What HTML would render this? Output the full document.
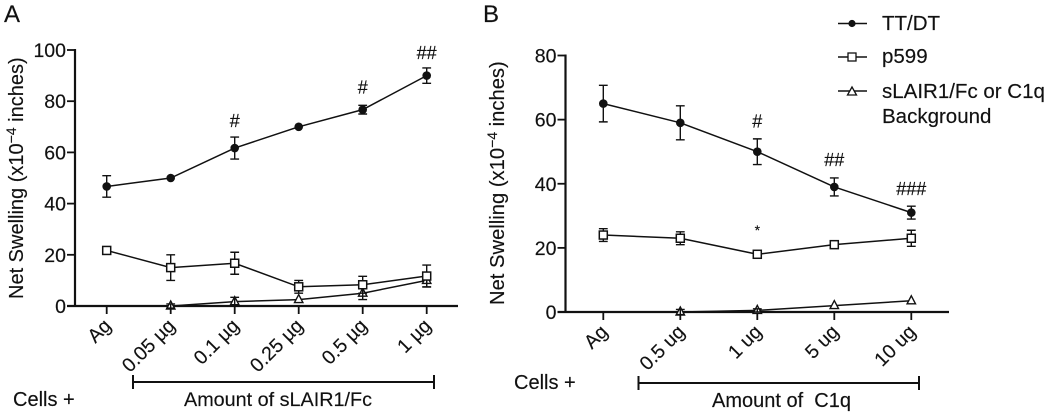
<!DOCTYPE html>
<html lang="en">
<head>
<meta charset="utf-8">
<title>Net swelling charts</title>
<style>
html,body{margin:0;padding:0;background:#fff;}
svg{display:block;}
text{font-family:"Liberation Sans",sans-serif;fill:#111;stroke:#111;stroke-width:0.15;}
</style>
</head>
<body>
<svg id="figure" width="1050" height="414" viewBox="0 0 1050 414" xmlns="http://www.w3.org/2000/svg">
  <g id="panel-a"></g>
  <g id="panel-b"></g>

  <text x="4" y="22" font-size="24">A</text>
  <text x="483" y="22" font-size="24">B</text>

  <text transform="translate(23,299) rotate(-90)" font-size="20">Net Swelling (x10<tspan font-size="14" dy="-7">−4</tspan><tspan dy="7"> inches)</tspan></text>
  <text transform="translate(504,305) rotate(-90)" font-size="20.2">Net Swelling (x10<tspan font-size="14" dy="-7">−4</tspan><tspan dy="7"> inches)</tspan></text>

  <text x="13" y="406" font-size="20">Cells +</text>
  <path d="M133 382H434M133 375V389M434 375V389" stroke="#111" stroke-width="2" fill="none"/>
  <text x="184" y="406" font-size="19.8">Amount of sLAIR1/Fc</text>

  <text x="514" y="389" font-size="20">Cells +</text>
  <path d="M638.5 383H919M638.5 376V390M919 376V390" stroke="#111" stroke-width="2" fill="none"/>
  <text x="712" y="407" font-size="20" xml:space="preserve" style="white-space:pre">Amount of  C1q</text>

  <g>
    <g>
      <line x1="838" x2="867" y1="23.5" y2="23.5" stroke="#111" stroke-width="1.4"/>
      <circle cx="852" cy="23.5" r="3.6" fill="#111"/>
      <text x="882" y="30" font-size="20.5">TT/DT</text>
    </g>
    <g>
      <line x1="838" x2="867" y1="57" y2="57" stroke="#111" stroke-width="1.4"/>
      <rect x="848" y="53" width="8" height="8" fill="#fff" stroke="#111" stroke-width="1.3"/>
      <text x="882" y="63" font-size="20.5">p599</text>
    </g>
    <g>
      <line x1="838" x2="867" y1="91" y2="91" stroke="#111" stroke-width="1.4"/>
      <path d="M852 87L856.5 95H847.500Z" fill="#fff" stroke="#111" stroke-width="1.3"/>
      <text x="882" y="98" font-size="20.5">sLAIR1/Fc or C1q</text>
      <text x="882" y="123" font-size="20.5">Background</text>
    </g>
  </g>
</svg>
<script>
// Panel A data
const aCategories = ['Ag', '0.05 µg', '0.1 µg', '0.25 µg', '0.5 µg', '1 µg'];
const aTicks = [0, 20, 40, 60, 80, 100];
const aTT = [46.7, 50, 61.7, 70, 76.7, 90];
const aTTErr = [4.2, 0, 4.3, 0, 1.7, 3];
const aP599 = [21.7, 15, 16.7, 7.5, 8.3, 11.7];
const aP599Err = [0, 5, 4.3, 2.5, 3.3, 4.3];
const aBg = [null, 0, 1.7, 2.5, 5, 10];
const aBgErr = [0, 0.8, 1.7, 0, 2.5, 2.5];
const aSigCats = [2, 4, 5];
const aSigText = ['#', '#', '##'];
const aSigLevels = [70, 83, 96.5];

// Panel B data
const bCategories = ['Ag', '0.5 ug', '1 ug', '5 ug', '10 ug'];
const bTicks = [0, 20, 40, 60, 80];
const bTT = [65, 59, 50, 39, 31];
const bTTErr = [5.7, 5.3, 4, 2.8, 2];
const bP599 = [24, 23, 18, 21, 23];
const bP599Err = [2, 2, 0, 0, 2.5];
const bBg = [null, 0, 0.5, 2, 3.5];
const bBgErr = [0, 0.8, 0.5, 0, 0];
const bSigCats = [2, 3, 4, 2];
const bSigText = ['#', '##', '###', '*'];
const bSigLevels = [57.5, 45.5, 36.5, 24];

const NS = 'http://www.w3.org/2000/svg';
const INK = '#111';

function make(parent, tag, attrs) {
  const el = document.createElementNS(NS, tag);
  for (const k in attrs) el.setAttribute(k, attrs[k]);
  parent.appendChild(el);
  return el;
}

function drawPanel(root, cfg) {
  const xScale = i => cfg.x0 + i * cfg.dx;
  const yScale = v => cfg.yBottom - (v / cfg.yMax) * (cfg.yBottom - cfg.yTop);

  // y axis
  const yAxis = make(root, 'g', {});
  
  
  make(yAxis, 'line', {x1: cfg.axisX, x2: cfg.axisX, y1: yScale(cfg.yMax) - 1, y2: yScale(0) + 1, stroke: INK, 'stroke-width': 2.2});
  cfg.ticks.forEach(t => {
    make(yAxis, 'line', {x1: cfg.axisX - 8, x2: cfg.axisX, y1: yScale(t), y2: yScale(t), stroke: INK, 'stroke-width': 1.8});
    const label = make(yAxis, 'text', {x: cfg.axisX - 9, y: yScale(t) + 7, 'text-anchor': 'end', 'font-size': 19.5});
    label.textContent = t;
    
    
  });

  // x axis
  const xAxis = make(root, 'g', {});
  
  
  make(xAxis, 'line', {x1: cfg.axisX - 8, x2: cfg.axisEnd, y1: yScale(0), y2: yScale(0), stroke: INK, 'stroke-width': 2.2});
  cfg.categories.forEach((c, i) => {
    const x = xScale(i);
    make(xAxis, 'line', {x1: x, x2: x, y1: yScale(0), y2: yScale(0) + 8, stroke: INK, 'stroke-width': 1.8});
    const lx = x + 5.5;
    const ly = yScale(0) + 21;
    const label = make(xAxis, 'text', {x: lx, y: ly, 'text-anchor': 'end', 'font-size': 19.5, transform: 'rotate(-45 ' + lx + ' ' + ly + ')'});
    label.textContent = c;
    
    
  });

  // series, back to front
  cfg.series.forEach(s => {
    const g = make(root, 'g', {});
    
    
    let pts = '';
    s.values.forEach((v, i) => {
      if (v !== null) pts += xScale(i) + ',' + yScale(v) + ' ';
    });
    make(g, 'polyline', {points: pts.trim(), fill: 'none', stroke: INK, 'stroke-width': 1.5});
    s.values.forEach((v, i) => {
      if (v === null) return;
      const x = xScale(i);
      const y = yScale(v);
      const e = s.errs[i];
      if (s.marker === 'triangle') {
        make(g, 'path', {d: 'M' + x + ' ' + (y - 5) + 'L' + (x + 4.2) + ' ' + (y + 3) + 'H' + (x - 4.2) + 'Z', fill: '#fff', stroke: INK, 'stroke-width': 1.4});
      }
      if (e > 0) {
        const hi = yScale(v + e);
        const lo = yScale(v - e);
        const capped = 4.4;
        make(g, 'path', {d: 'M' + x + ' ' + hi + 'V' + lo + 'M' + (x - capped) + ' ' + hi + 'H' + (x + capped) + 'M' + (x - capped) + ' ' + lo + 'H' + (x + capped), stroke: INK, 'stroke-width': 1.4, fill: 'none'});
      }
      if (s.marker === 'circle') {
        make(g, 'circle', {cx: x, cy: y, r: 4.3, fill: INK});
      } else if (s.marker === 'square') {
        make(g, 'rect', {x: x - 4, y: y - 4, width: 8, height: 8, fill: '#fff', stroke: INK, 'stroke-width': 1.5});
      }
    });
  });

  // significance marks
  cfg.sigCats.forEach((c, i) => {
    const sig = make(root, 'text', {x: xScale(c), y: yScale(cfg.sigLevels[i]), 'text-anchor': 'middle', 'font-size': cfg.sigText[i] === '*' ? 14 : 18});
    sig.textContent = cfg.sigText[i];
    
    
  });
}

drawPanel(document.getElementById('panel-a'), {
  x0: 106.7, dx: 64, axisX: 75, axisEnd: 458, yTop: 50, yBottom: 306, yMax: 100,
  ticks: aTicks, categories: aCategories,
  series: [
    {name: 'series-background', marker: 'triangle', values: aBg, errs: aBgErr},
    {name: 'series-p599', marker: 'square', values: aP599, errs: aP599Err},
    {name: 'series-tt-dt', marker: 'circle', values: aTT, errs: aTTErr}
  ],
  sigCats: aSigCats, sigText: aSigText, sigLevels: aSigLevels
});

drawPanel(document.getElementById('panel-b'), {
  x0: 603.3, dx: 77, axisX: 565.5, axisEnd: 949, yTop: 55.5, yBottom: 312, yMax: 80,
  ticks: bTicks, categories: bCategories,
  series: [
    {name: 'series-background', marker: 'triangle', values: bBg, errs: bBgErr},
    {name: 'series-p599', marker: 'square', values: bP599, errs: bP599Err},
    {name: 'series-tt-dt', marker: 'circle', values: bTT, errs: bTTErr}
  ],
  sigCats: bSigCats, sigText: bSigText, sigLevels: bSigLevels
});
</script>
</body>
</html>
